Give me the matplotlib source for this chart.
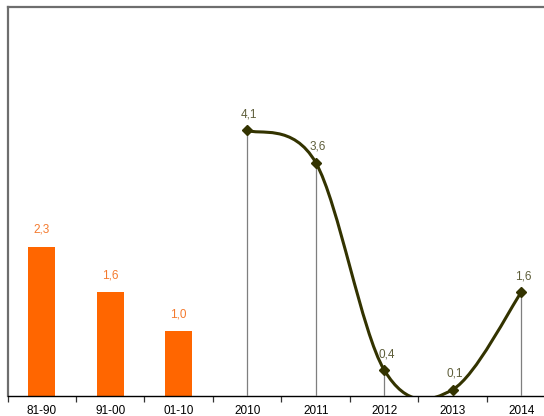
import matplotlib
matplotlib.use("Agg")
import matplotlib.pyplot as plt
from matplotlib.path import Path
from matplotlib.patches import PathPatch
from matplotlib.ticker import FixedLocator, NullFormatter, FixedFormatter

plt.rcParams['font.family'] = ['Liberation Sans Narrow', 'Liberation Sans', 'DejaVu Sans']

categories = ["81-90", "91-00", "01-10", "2010", "2011", "2012", "2013", "2014"]
bar_values = [2.3, 1.6, 1.0]
line_values = [4.1, 3.6, 0.4, 0.1, 1.6]

BAR_COLOR = "#FF6600"
BAR_LABEL = "#F47A2E"
LINE_COLOR = "#333300"
LINE_LABEL = "#5E5E3A"
FS = 8.5

fig = plt.figure(figsize=(5.44, 4.16), dpi=100)
W, H = 544, 416
ax = fig.add_axes([7.5 / W, 20 / H, 548 / W, 389 / H])
ax.set_xlim(-0.5, len(categories) - 0.5)
ax.set_ylim(0, 6)

# bars
bx = list(range(len(bar_values)))
ax.bar(bx, bar_values, width=0.4, color=BAR_COLOR, zorder=2)
for x, v in zip(bx, bar_values):
    ax.annotate(f"{v:.1f}".replace('.', ','), (x, v), xytext=(0, 8),
                textcoords='offset points', ha='center', va='bottom',
                fontsize=FS, color=BAR_LABEL)

# line (smoothed, Excel-like Catmull-Rom bezier)
lx = list(range(len(bar_values), len(bar_values) + len(line_values)))
pts = list(zip(lx, line_values))
verts = [pts[0]]
codes = [Path.MOVETO]
n = len(pts)
for i in range(n - 1):
    p0 = pts[i - 1] if i > 0 else pts[i]
    p1 = pts[i]
    p2 = pts[i + 1]
    p3 = pts[i + 2] if i + 2 < n else pts[i + 1]
    c1 = (p1[0] + (p2[0] - p0[0]) / 6, p1[1] + (p2[1] - p0[1]) / 6)
    c2 = (p2[0] - (p3[0] - p1[0]) / 6, p2[1] - (p3[1] - p1[1]) / 6)
    verts += [c1, c2, p2]
    codes += [Path.CURVE4] * 3
patch = PathPatch(Path(verts, codes), facecolor='none', edgecolor=LINE_COLOR,
                  lw=2.2, zorder=4, capstyle='round', joinstyle='round')
ax.add_patch(patch)

# drop lines
ax.vlines(lx, 0, line_values, colors="#7F7F7F", lw=0.9, zorder=3)
ax.plot(lx, line_values, linestyle='none', marker='D', markersize=5.5,
        color=LINE_COLOR, zorder=5)
for x, v in zip(lx, line_values):
    ax.annotate(f"{v:.1f}".replace('.', ','), (x, v), xytext=(1.5, 7),
                textcoords='offset points', ha='center', va='bottom',
                fontsize=FS, color=LINE_LABEL)

# axes styling
ax.set_yticks([])
for s in ['left', 'top']:
    ax.spines[s].set_color('#6E6E6E')
    ax.spines[s].set_linewidth(1.6)
ax.spines['right'].set_visible(False)
ax.spines['bottom'].set_color('#000000')
ax.spines['bottom'].set_linewidth(1.0)

boundaries = [i - 0.5 for i in range(len(categories) + 1)]
ax.xaxis.set_major_locator(FixedLocator(boundaries))
ax.xaxis.set_major_formatter(NullFormatter())
ax.xaxis.set_minor_locator(FixedLocator(list(range(len(categories)))))
ax.xaxis.set_minor_formatter(FixedFormatter(categories))
ax.tick_params(axis='x', which='major', length=4, width=0.9, color='#333333', direction='out')
ax.tick_params(axis='x', which='minor', length=0, pad=6.5, labelsize=FS, labelcolor='#000000')

fig.savefig("out.png", dpi=100)
